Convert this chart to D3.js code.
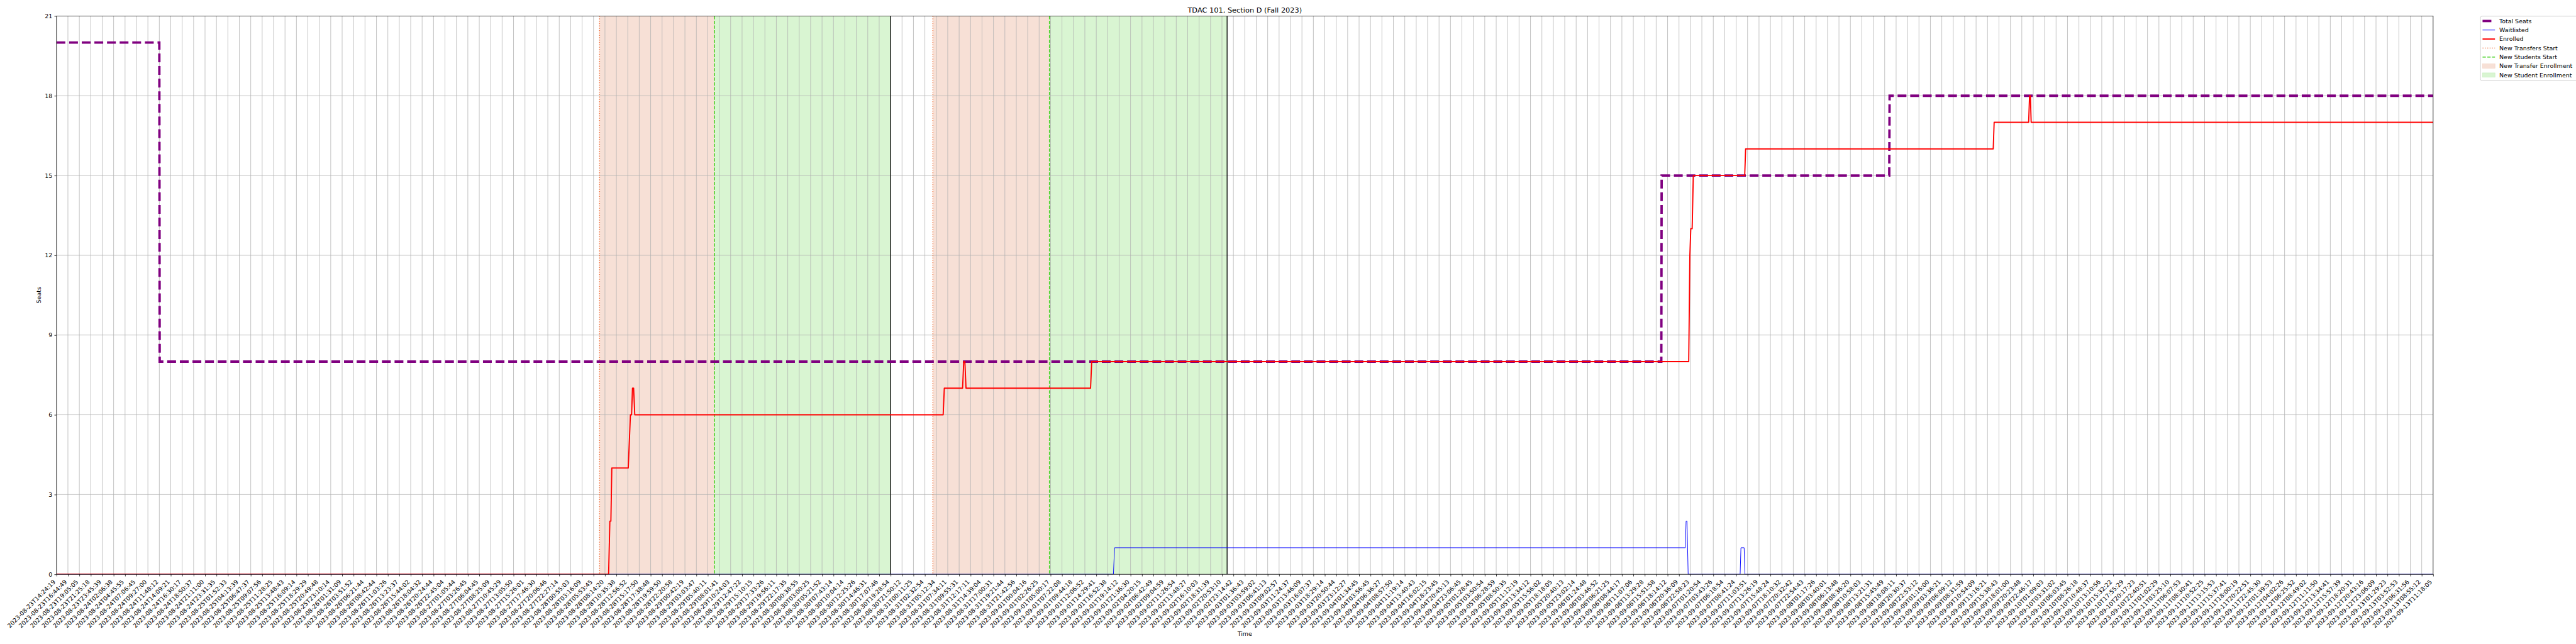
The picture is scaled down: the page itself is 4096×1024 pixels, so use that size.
<!DOCTYPE html>
<html>
<head>
<meta charset="utf-8">
<script src="https://cdn.jsdelivr.net/npm/d3@7"></script>
<style>
  html, body { margin: 0; padding: 0; background: #ffffff; }
  svg { display: block; }
  text { font-family: "DejaVu Sans", sans-serif; fill: #000; }
</style>
</head>
<body>
<script>
// ---------------- data ----------------
const tickLabels = [
"2023-08-23T14:24:19","2023-08-23T16:44:49","2023-08-23T19:05:05","2023-08-23T21:25:18","2023-08-23T23:45:39",
"2023-08-24T02:06:38","2023-08-24T04:45:55","2023-08-24T07:06:45","2023-08-24T09:27:00","2023-08-24T11:48:12",
"2023-08-24T14:09:21","2023-08-24T16:30:17","2023-08-24T18:50:37","2023-08-24T21:11:00","2023-08-24T23:31:35",
"2023-08-25T01:52:33","2023-08-25T04:13:39","2023-08-25T06:47:37","2023-08-25T09:07:56","2023-08-25T11:28:25",
"2023-08-25T13:48:43","2023-08-25T16:09:14","2023-08-25T18:29:29","2023-08-25T20:49:48","2023-08-25T23:10:14",
"2023-08-26T01:31:09","2023-08-26T03:51:52","2023-08-26T06:21:44","2023-08-26T08:42:44","2023-08-26T11:03:26",
"2023-08-26T13:23:37","2023-08-26T15:44:02","2023-08-26T18:04:32","2023-08-26T20:24:44","2023-08-26T22:45:04",
"2023-08-27T01:05:44","2023-08-27T03:26:45","2023-08-27T06:04:45","2023-08-27T08:25:09","2023-08-27T10:45:29",
"2023-08-27T13:05:50","2023-08-27T15:26:01","2023-08-27T17:46:30","2023-08-27T20:06:46","2023-08-27T22:27:14",
"2023-08-28T00:55:03","2023-08-28T03:16:09","2023-08-28T05:53:45","2023-08-28T08:14:20","2023-08-28T10:35:38",
"2023-08-28T12:56:52","2023-08-28T15:17:50","2023-08-28T17:38:48","2023-08-28T19:59:50","2023-08-28T22:20:58",
"2023-08-29T00:42:19","2023-08-29T03:03:47","2023-08-29T05:40:11","2023-08-29T08:01:41","2023-08-29T10:24:03",
"2023-08-29T12:47:22","2023-08-29T15:10:15","2023-08-29T17:33:26","2023-08-29T19:56:11","2023-08-29T22:17:35",
"2023-08-30T00:38:55","2023-08-30T03:00:25","2023-08-30T05:21:52","2023-08-30T07:43:14","2023-08-30T10:04:14",
"2023-08-30T12:25:26","2023-08-30T14:46:31","2023-08-30T17:07:46","2023-08-30T19:28:54","2023-08-30T21:50:12",
"2023-08-31T00:11:25","2023-08-31T02:32:54","2023-08-31T05:12:34","2023-08-31T07:34:11","2023-08-31T09:55:31",
"2023-08-31T12:17:11","2023-08-31T14:39:04","2023-08-31T17:00:31","2023-08-31T19:21:44","2023-08-31T21:42:56",
"2023-09-01T00:04:16","2023-09-01T02:26:25","2023-09-01T05:00:17","2023-09-01T07:22:08","2023-09-01T09:44:18",
"2023-09-01T12:06:52","2023-09-01T14:29:41","2023-09-01T16:52:38","2023-09-01T19:14:12","2023-09-01T21:36:30",
"2023-09-02T04:20:15","2023-09-02T06:42:49","2023-09-02T09:04:59","2023-09-02T11:26:54","2023-09-02T13:48:27",
"2023-09-02T16:10:03","2023-09-02T18:31:39","2023-09-02T20:53:10","2023-09-02T23:14:42","2023-09-03T01:36:43",
"2023-09-03T03:59:02","2023-09-03T06:41:13","2023-09-03T09:02:57","2023-09-03T11:24:37","2023-09-03T13:46:09",
"2023-09-03T16:07:37","2023-09-03T18:29:14","2023-09-03T20:50:44","2023-09-03T23:12:27","2023-09-04T01:34:45",
"2023-09-04T03:56:45","2023-09-04T06:36:27","2023-09-04T08:57:50","2023-09-04T11:19:14","2023-09-04T13:40:43",
"2023-09-04T16:02:15","2023-09-04T18:23:45","2023-09-04T20:45:13","2023-09-04T23:06:45","2023-09-05T01:28:45",
"2023-09-05T03:50:54","2023-09-05T06:28:59","2023-09-05T08:50:35","2023-09-05T11:12:19","2023-09-05T13:34:12",
"2023-09-05T15:56:02","2023-09-05T18:18:05","2023-09-05T20:40:13","2023-09-05T23:02:14","2023-09-06T01:24:48",
"2023-09-06T03:46:52","2023-09-06T06:21:25","2023-09-06T08:44:17","2023-09-06T11:07:06","2023-09-06T13:29:28",
"2023-09-06T15:51:58","2023-09-06T18:14:12","2023-09-06T20:36:09","2023-09-06T22:58:23","2023-09-07T01:20:54",
"2023-09-07T03:43:26","2023-09-07T06:18:54","2023-09-07T08:41:24","2023-09-07T11:03:51","2023-09-07T13:26:19",
"2023-09-07T15:48:24","2023-09-07T18:10:32","2023-09-07T20:32:42","2023-09-07T22:54:43","2023-09-08T01:17:26",
"2023-09-08T03:40:01","2023-09-08T06:13:48","2023-09-08T08:36:20","2023-09-08T10:58:03","2023-09-08T13:21:31",
"2023-09-08T15:45:49","2023-09-08T18:08:11","2023-09-08T20:30:37","2023-09-08T22:53:12","2023-09-09T01:16:00",
"2023-09-09T03:36:21","2023-09-09T06:09:12","2023-09-09T08:31:59","2023-09-09T10:54:09","2023-09-09T13:16:21",
"2023-09-09T15:38:43","2023-09-09T18:01:00","2023-09-09T20:23:48","2023-09-09T22:46:17","2023-09-10T01:09:03",
"2023-09-10T03:31:02","2023-09-10T06:03:45","2023-09-10T08:26:18","2023-09-10T10:48:37","2023-09-10T13:10:56",
"2023-09-10T15:32:22","2023-09-10T17:55:29","2023-09-10T20:17:23","2023-09-10T22:40:51","2023-09-11T01:02:29",
"2023-09-11T03:25:10","2023-09-11T06:07:53","2023-09-11T08:30:41","2023-09-11T10:52:25","2023-09-11T13:15:53",
"2023-09-11T15:37:41","2023-09-11T18:00:19","2023-09-11T20:22:51","2023-09-11T22:45:30","2023-09-12T01:39:53",
"2023-09-12T04:02:26","2023-09-12T06:25:52","2023-09-12T08:49:02","2023-09-12T11:11:50","2023-09-12T13:34:41",
"2023-09-12T15:57:39","2023-09-12T18:20:31","2023-09-12T20:43:16","2023-09-12T23:06:09","2023-09-13T01:29:23",
"2023-09-13T03:52:53","2023-09-13T06:31:56","2023-09-13T08:55:12","2023-09-13T11:18:05"
];

// series as [position on the tick index axis, seats]
const totalSeats = [[0,20],[9.0,20],[9.03,8],[140.45,8],[140.48,15],[160.4,15],[160.43,18],[208,18]];
const waitlisted = [[0,0],[92.5,0],[92.6,1],[142.55,1],[142.62,2],[142.7,2],[142.8,0],[147.35,0],[147.42,1],[147.7,1],[147.77,0],[208,0]];
const enrolled = [[0,0],[48.32,0],[48.43,2],[48.52,2],[48.6,4],[50.04,4],[50.23,6],[50.33,6],[50.41,7],[50.51,7],[50.61,6],
  [77.6,6],[77.7,7],[79.3,7],[79.4,8],[79.5,8],[79.6,7],[90.5,7],[90.6,8],[142.85,8],[142.95,12],[143.03,13],[143.15,13],[143.25,15],
  [147.75,15],[147.83,16],[169.5,16],[169.58,17],[172.6,17],[172.68,18],[172.75,18],[172.82,17],[208,17]];

const transferStarts = [47.53, 76.7];
const studentStarts = [57.59, 86.9];
const enrollmentEnds = [73.0, 102.45];

const yTicks = [0,3,6,9,12,15,18,21];
const titleText = "TDAC 101, Section D (Fall 2023)";
const legendItems = ["Total Seats","Waitlisted","Enrolled","New Transfers Start","New Students Start","New Transfer Enrollment","New Student Enrollment"];

// ---------------- layout ----------------
const W = 4096, H = 1024, K = 0.682;
const L = 131.7*K, R = 5672.8*K, T = 37.3*K, B = 1339*K;
const fs = 13.9*K;

const svg = d3.select("body").append("svg").attr("width", W).attr("height", H);
svg.append("rect").attr("width", W).attr("height", H).attr("fill", "#fff");

const x = d3.scaleLinear().domain([0, tickLabels.length-1]).range([L, R]);
const y = d3.scaleLinear().domain([0, 21]).range([B, T]);

svg.append("defs").append("clipPath").attr("id","clip")
  .append("rect").attr("x", L).attr("y", T).attr("width", R-L).attr("height", B-T);

const plot = svg.append("g").attr("clip-path","url(#clip)");

const salmonFill = "#f7e0d6", greenFill = "#d9f5d2";
transferStarts.forEach((s,i) => {
  plot.append("rect").attr("x", x(s)).attr("y", T).attr("width", x(studentStarts[i])-x(s)).attr("height", B-T).attr("fill", salmonFill);
  plot.append("rect").attr("x", x(studentStarts[i])).attr("y", T).attr("width", x(enrollmentEnds[i])-x(studentStarts[i])).attr("height", B-T).attr("fill", greenFill);
});

// grid
const gridColor = "#b0b0b0", gridW = 0.8*1.389*K;
plot.append("g").selectAll("line").data(d3.range(tickLabels.length)).join("line")
  .attr("x1", d=>x(d)).attr("x2", d=>x(d)).attr("y1", T).attr("y2", B)
  .attr("stroke", gridColor).attr("stroke-width", gridW);
plot.append("g").selectAll("line").data(yTicks).join("line")
  .attr("x1", L).attr("x2", R).attr("y1", d=>y(d)).attr("y2", d=>y(d))
  .attr("stroke", gridColor).attr("stroke-width", gridW);

// event lines
const evW = 1.5*1.389*K;
const orangeC = "#f0703a", greenC = "#3fcf1a";
transferStarts.forEach(s => plot.append("line").attr("x1", x(s)).attr("x2", x(s)).attr("y1", T).attr("y2", B)
  .attr("stroke", orangeC).attr("stroke-width", evW).attr("stroke-dasharray", `${evW},${1.65*evW}`));
studentStarts.forEach(s => plot.append("line").attr("x1", x(s)).attr("x2", x(s)).attr("y1", T).attr("y2", B)
  .attr("stroke", greenC).attr("stroke-width", evW).attr("stroke-dasharray", `${3.7*evW},${1.6*evW}`));
enrollmentEnds.forEach(s => plot.append("line").attr("x1", x(s)).attr("x2", x(s)).attr("y1", T).attr("y2", B)
  .attr("stroke", "#000").attr("stroke-width", 1.3));

const line = d3.line().x(d=>x(d[0])).y(d=>y(d[1]));
const purpleW = 4*1.389*K;
plot.append("path").datum(totalSeats).attr("d", line).attr("fill","none")
  .attr("stroke","#800080").attr("stroke-width", purpleW).attr("stroke-dasharray", `${3.7*purpleW},${1.6*purpleW}`);
plot.append("path").datum(waitlisted).attr("d", line).attr("fill","none")
  .attr("stroke","#0000ff").attr("stroke-width", 1*1.389*K);
plot.append("path").datum(enrolled).attr("d", line).attr("fill","none")
  .attr("stroke","#ff0000").attr("stroke-width", 2*1.389*K).attr("stroke-linejoin","round");

// axes
const tickLen = 3.5*1.389*K, tickPad = 3.5*1.389*K;
const xAxis = d3.axisBottom(x).tickValues(d3.range(tickLabels.length)).tickFormat(i=>tickLabels[i])
  .tickSize(tickLen).tickPadding(tickPad);
const gx = svg.append("g").attr("transform", `translate(0,${B})`).call(xAxis);
gx.select(".domain").remove();
gx.selectAll(".tick line").attr("stroke","#000").attr("stroke-width", gridW);
gx.selectAll(".tick text")
  .attr("font-size", fs).attr("font-family","DejaVu Sans")
  .attr("text-anchor","end").attr("dy", null)
  .attr("y", 0).attr("x", 0)
  .attr("transform", `translate(${-0.236*fs*0.707},${tickLen+tickPad+0.928*fs*0.707}) rotate(-45)`);

const yAxis = d3.axisLeft(y).tickValues(yTicks).tickSize(tickLen).tickPadding(tickPad);
const gy = svg.append("g").attr("transform", `translate(${L},0)`).call(yAxis);
gy.select(".domain").remove();
gy.selectAll(".tick line").attr("stroke","#000").attr("stroke-width", gridW);
gy.selectAll(".tick text").attr("font-size", fs).attr("font-family","DejaVu Sans");

// spines
svg.append("rect").attr("x", L).attr("y", T).attr("width", R-L).attr("height", B-T)
  .attr("fill","none").attr("stroke","#000").attr("stroke-width", gridW);

// labels
svg.append("text").attr("x", (L+R)/2).attr("y", 19.5).attr("text-anchor","middle")
  .attr("font-size", 16.67*K).text(titleText);
svg.append("text").attr("x", (L+R)/2).attr("y", 1477*K + 0.35*fs).attr("text-anchor","middle")
  .attr("font-size", fs).text("Time");
svg.append("text").attr("transform", `translate(${90*K + 0.35*fs},${(T+B)/2}) rotate(-90)`)
  .attr("text-anchor","middle").attr("font-size", fs).text("Seats");

// legend
const lgX = 5783*K, lgY = 37.7*K, lgB = 188*K;
const lg = svg.append("g");
lg.append("rect").attr("x", lgX).attr("y", lgY).attr("width", 400).attr("height", lgB-lgY)
  .attr("rx", 2.7).attr("fill","#fff").attr("fill-opacity",0.8).attr("stroke","#cccccc").attr("stroke-width", 1*1.389*K);
const hx0 = 5788*K, hx1 = 5817*K, tx = 5827*K;
const rowY = i => (49 + i*21)*K;
legendItems.forEach((name,i) => {
  const cy = rowY(i);
  if (i === 0) lg.append("line").attr("x1",hx0).attr("x2",hx1).attr("y1",cy).attr("y2",cy)
      .attr("stroke","#800080").attr("stroke-width",purpleW).attr("stroke-dasharray", `${3.7*purpleW},${1.6*purpleW}`);
  if (i === 1) lg.append("line").attr("x1",hx0).attr("x2",hx1).attr("y1",cy).attr("y2",cy)
      .attr("stroke","#0000ff").attr("stroke-width",1*1.389*K);
  if (i === 2) lg.append("line").attr("x1",hx0).attr("x2",hx1).attr("y1",cy).attr("y2",cy)
      .attr("stroke","#ff0000").attr("stroke-width",2*1.389*K);
  if (i === 3) lg.append("line").attr("x1",hx0).attr("x2",hx1).attr("y1",cy).attr("y2",cy)
      .attr("stroke",orangeC).attr("stroke-width",evW).attr("stroke-dasharray", `${evW},${1.65*evW}`);
  if (i === 4) lg.append("line").attr("x1",hx0).attr("x2",hx1).attr("y1",cy).attr("y2",cy)
      .attr("stroke",greenC).attr("stroke-width",evW).attr("stroke-dasharray", `${3.7*evW},${1.6*evW}`);
  if (i === 5) lg.append("rect").attr("x",hx0).attr("y",cy-5*K).attr("width",hx1-hx0).attr("height",10*K)
      .attr("fill",salmonFill).attr("stroke","#f3d3c5").attr("stroke-width",0.7);
  if (i === 6) lg.append("rect").attr("x",hx0).attr("y",cy-5*K).attr("width",hx1-hx0).attr("height",10*K)
      .attr("fill",greenFill).attr("stroke","#c8efbf").attr("stroke-width",0.7);
  lg.append("text").attr("x", tx).attr("y", cy + 0.36*fs).attr("font-size", fs).text(name);
});
</script>
</body>
</html>
